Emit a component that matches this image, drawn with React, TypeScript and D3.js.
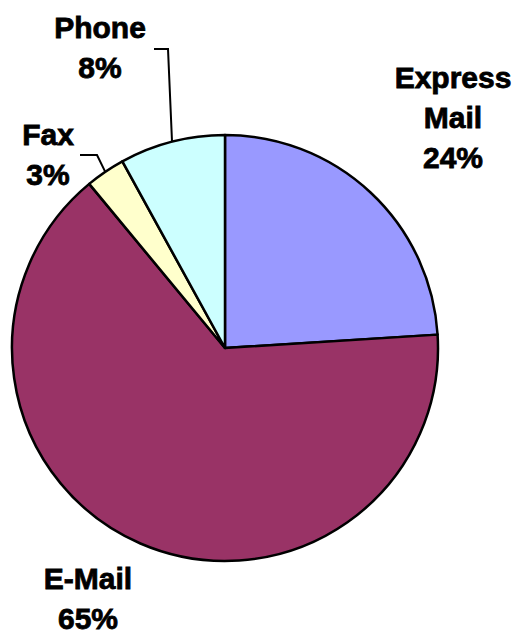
import React from 'react';
import * as d3 from 'd3';

const categories = ['Express Mail', 'E-Mail', 'Fax', 'Phone'];
const values = [24, 65, 3, 8];
const colors = ['#9999FF', '#993366', '#FFFFCC', '#CCFFFF'];
const labelLines = [['Express', 'Mail', '24%'], ['E-Mail', '65%'], ['Fax', '3%'], ['Phone', '8%']];

const width = 519;
const height = 639;
const cx = 225;
const cy = 348;
const radius = 213;

// label anchor (centre x, first baseline y) and leader elbow for each slice
const labelPos = [
  { x: 453, y: 88, leader: null },
  { x: 88, y: 589, leader: null },
  { x: 48, y: 145, leader: [[80, 155], [97, 155]] },
  { x: 100, y: 38, leader: [[154, 49], [168, 49]] },
];

export default function App() {
  const pie = d3
    .pie<number>()
    .sort(null)
    .value(d => d);
  const arcs = pie(values);
  const arc = d3.arc<d3.PieArcDatum<number>>().innerRadius(0).outerRadius(radius);

  return (
    <svg
      width={width}
      height={height}
      style={{ position: 'absolute', left: 0, top: 0, background: '#fff' }}
    >
      <g transform={`translate(${cx},${cy})`}>
        {arcs.map((a, i) => (
          <path
            key={categories[i]}
            d={arc(a) || ''}
            fill={colors[i]}
            stroke="#000"
            strokeWidth={2.5}
            strokeLinejoin="round"
          />
        ))}
      </g>
      {arcs.map((a, i) => {
        const p = labelPos[i];
        if (!p.leader) return null;
        const mid = (a.startAngle + a.endAngle) / 2;
        const ex = cx + radius * Math.sin(mid);
        const ey = cy - radius * Math.cos(mid);
        const pts = [...p.leader, [ex, ey]];
        return (
          <path
            key={'l' + i}
            d={d3.line()(pts as [number, number][]) || ''}
            fill="none"
            stroke="#000"
            strokeWidth={2}
          />
        );
      })}
      {labelLines.map((lines, i) => (
        <text
          key={'t' + i}
          x={labelPos[i].x}
          y={labelPos[i].y}
          textAnchor="middle"
          fontFamily="Liberation Sans, Arial, sans-serif"
          fontWeight="bold"
          fontSize={30}
          fill="#000"
          stroke="#000"
          strokeWidth={0.8}
        >
          {lines.map((t, j) => (
            <tspan key={j} x={labelPos[i].x} dy={j === 0 ? 0 : 40}>
              {t}
            </tspan>
          ))}
        </text>
      ))}
    </svg>
  );
}
